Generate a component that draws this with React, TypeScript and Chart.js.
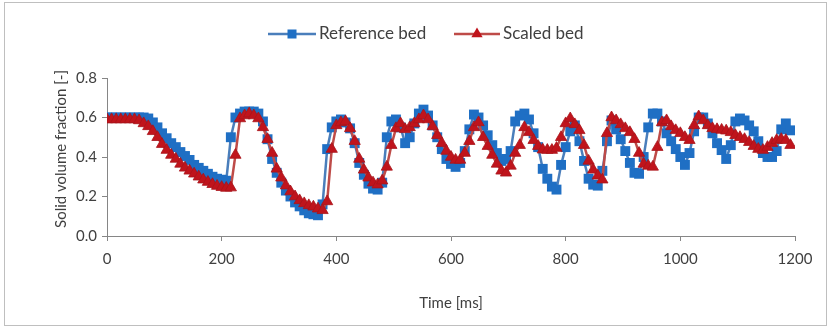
import React, { useEffect, useRef } from "react";
import { Chart, registerables } from "chart.js";

Chart.register(...registerables);

const SERIES_NAMES = ["Reference bed", "Scaled bed"];
const X_TITLE = "Time [ms]";
const Y_TITLE = "Solid volume fraction [-]";
const X_TICKS = [0, 200, 400, 600, 800, 1000, 1200];
const Y_TICKS = [0, 0.2, 0.4, 0.6, 0.8];

const TIME_MS = [
  0, 8, 16, 24, 32, 40, 48, 56, 64, 72, 80, 88, 96, 104, 112, 120, 128, 136, 144, 152,
  160, 168, 176, 184, 192, 200, 208, 216, 224, 232, 240, 248, 256, 264, 272, 280, 288, 296, 304, 312,
  320, 328, 336, 344, 352, 360, 368, 376, 384, 392, 400, 408, 416, 424, 432, 440, 448, 456, 464, 472,
  480, 488, 496, 504, 512, 520, 528, 536, 544, 552, 560, 568, 576, 584, 592, 600, 608, 616, 624, 632,
  640, 648, 656, 664, 672, 680, 688, 696, 704, 712, 720, 728, 736, 744, 752, 760, 768, 776, 784, 792,
  800, 808, 816, 824, 832, 840, 848, 856, 864, 872, 880, 888, 896, 904, 912, 920, 928, 936, 944, 952,
  960, 968, 976, 984, 992, 1000, 1008, 1016, 1024, 1032, 1040, 1048, 1056, 1064, 1072, 1080, 1088, 1096, 1104, 1112,
  1120, 1128, 1136, 1144, 1152, 1160, 1168, 1176, 1184, 1192,
];

const REFERENCE_BED = [
  0.6, 0.6, 0.6, 0.6, 0.6, 0.6, 0.6, 0.6, 0.6, 0.595, 0.575, 0.55, 0.52, 0.495, 0.47, 0.45, 0.425, 0.405, 0.385, 0.36,
  0.345, 0.33, 0.315, 0.3, 0.29, 0.285, 0.28, 0.5, 0.6, 0.62, 0.63, 0.63, 0.63, 0.62, 0.58, 0.49, 0.39, 0.32, 0.27, 0.23,
  0.2, 0.17, 0.15, 0.13, 0.115, 0.11, 0.105, 0.16, 0.44, 0.55, 0.58, 0.59, 0.575, 0.545, 0.47, 0.37, 0.31, 0.265, 0.24, 0.235,
  0.27, 0.5, 0.58, 0.59, 0.55, 0.47, 0.5, 0.57, 0.62, 0.64, 0.61, 0.56, 0.5, 0.44, 0.39, 0.365, 0.35, 0.37, 0.43, 0.54,
  0.615, 0.6, 0.56, 0.51, 0.46, 0.42, 0.38, 0.39, 0.43, 0.58, 0.61, 0.62, 0.59, 0.52, 0.45, 0.34, 0.29, 0.25, 0.235, 0.36,
  0.45, 0.53, 0.56, 0.48, 0.38, 0.29, 0.26, 0.255, 0.33, 0.48, 0.585, 0.54, 0.49, 0.43, 0.37, 0.32, 0.315, 0.4, 0.55, 0.62,
  0.62, 0.58, 0.52, 0.48, 0.44, 0.4, 0.36, 0.42, 0.53, 0.6, 0.6, 0.57, 0.52, 0.47, 0.435, 0.39, 0.46, 0.58, 0.595, 0.585,
  0.56, 0.53, 0.48, 0.42, 0.4, 0.4, 0.43, 0.54, 0.57, 0.535,
];

const SCALED_BED = [
  0.59, 0.59, 0.59, 0.59, 0.59, 0.59, 0.59, 0.585, 0.57, 0.555, 0.53, 0.5, 0.465, 0.435, 0.41, 0.39, 0.365, 0.345, 0.33, 0.315,
  0.3, 0.285, 0.273, 0.262, 0.253, 0.247, 0.243, 0.245, 0.41, 0.595, 0.61, 0.62, 0.61, 0.595, 0.55, 0.49, 0.42, 0.34, 0.295, 0.255,
  0.225, 0.2, 0.18, 0.165, 0.155, 0.148, 0.138, 0.13, 0.175, 0.44, 0.56, 0.575, 0.58, 0.545, 0.48, 0.39, 0.335, 0.295, 0.27, 0.26,
  0.28, 0.35, 0.46, 0.545, 0.57, 0.54, 0.55, 0.57, 0.59, 0.61, 0.59, 0.555, 0.51, 0.47, 0.43, 0.4, 0.385, 0.385, 0.42, 0.48,
  0.55, 0.575, 0.5, 0.455, 0.41, 0.365, 0.33, 0.32, 0.355, 0.42, 0.46, 0.55, 0.525, 0.485, 0.455, 0.437, 0.435, 0.435, 0.445, 0.5,
  0.57, 0.595, 0.565, 0.535, 0.46, 0.38, 0.335, 0.305, 0.285, 0.52, 0.6, 0.585, 0.565, 0.545, 0.525, 0.49, 0.42, 0.365, 0.355, 0.35,
  0.45, 0.575, 0.585, 0.555, 0.535, 0.52, 0.5, 0.485, 0.56, 0.605, 0.585, 0.56, 0.545, 0.54, 0.537, 0.533, 0.525, 0.51, 0.5, 0.49,
  0.475, 0.455, 0.44, 0.435, 0.45, 0.47, 0.485, 0.49, 0.485, 0.46,
];

const BLUE_LINE = "#4A7EBB";
const BLUE_MARK = "#1F6FC4";
const RED_LINE = "#BE4B48";
const RED_MARK = "#C0141C";
const AXIS_GRAY = "#868686";
const TEXT = "#404040";
const FONT = "Lato, 'Open Sans', sans-serif";

function drawSquare(ctx: CanvasRenderingContext2D, x: number, y: number, s: number, color: string) {
  ctx.fillStyle = color;
  ctx.fillRect(x - s / 2, y - s / 2, s, s);
}

function drawTriangle(ctx: CanvasRenderingContext2D, x: number, y: number, r: number, color: string) {
  ctx.beginPath();
  ctx.moveTo(x, y - r);
  ctx.lineTo(x + r * 0.866, y + r * 0.5);
  ctx.lineTo(x - r * 0.866, y + r * 0.5);
  ctx.closePath();
  ctx.fillStyle = color;
  ctx.fill();
}

const framePlugin = {
  id: "framePlugin",
  beforeDraw(chart: any) {
    const ctx = chart.ctx as CanvasRenderingContext2D;
    ctx.save();
    ctx.fillStyle = "#ffffff";
    ctx.fillRect(0, 0, chart.width, chart.height);
    ctx.strokeStyle = "#BFBFBF";
    ctx.lineWidth = 1;
    ctx.strokeRect(4.5, 2.5, 822, 323);
    ctx.restore();
  },
  afterDraw(chart: any) {
    const ctx = chart.ctx as CanvasRenderingContext2D;
    const y = 34;
    ctx.save();
    ctx.lineWidth = 2.5;
    // Reference bed
    ctx.strokeStyle = BLUE_LINE;
    ctx.beginPath();
    ctx.moveTo(268, y);
    ctx.lineTo(316, y);
    ctx.stroke();
    drawSquare(ctx, 292, y, 9, BLUE_MARK);
    // Scaled bed
    ctx.strokeStyle = RED_LINE;
    ctx.beginPath();
    ctx.moveTo(454, y);
    ctx.lineTo(500, y);
    ctx.stroke();
    drawTriangle(ctx, 477, y, 6.5, RED_MARK);
    ctx.fillStyle = TEXT;
    ctx.font = `17px ${FONT}`;
    ctx.textBaseline = "middle";
    ctx.textAlign = "left";
    ctx.fillText(SERIES_NAMES[0], 319, y);
    ctx.fillText(SERIES_NAMES[1], 503, y);
    // Y axis title (centred a little above the plot centre, as in the source)
    ctx.save();
    ctx.translate(61, 149);
    ctx.rotate(-Math.PI / 2);
    ctx.textAlign = "center";
    ctx.font = `15px ${FONT}`;
    ctx.fillText(Y_TITLE, 0, 0);
    ctx.restore();
    ctx.restore();
  },
};

export default function App() {
  const canvasRef = useRef<HTMLCanvasElement | null>(null);

  useEffect(() => {
    const canvas = canvasRef.current;
    if (!canvas) return;
    Chart.defaults.font.family = FONT;
    const chart = new Chart(canvas, {
      type: "line",
      data: {
        datasets: [
          {
            label: SERIES_NAMES[0],
            data: TIME_MS.map((t, i) => ({ x: t, y: REFERENCE_BED[i] })),
            borderColor: BLUE_LINE,
            backgroundColor: BLUE_MARK,
            borderWidth: 2.5,
            pointStyle: "rect",
            pointRadius: 7,
            pointBackgroundColor: BLUE_MARK,
            pointBorderColor: BLUE_MARK,
            pointBorderWidth: 0,
            tension: 0,
            order: 2,
          },
          {
            label: SERIES_NAMES[1],
            data: TIME_MS.map((t, i) => ({ x: t, y: SCALED_BED[i] })),
            borderColor: RED_LINE,
            backgroundColor: RED_MARK,
            borderWidth: 2.5,
            pointStyle: "triangle",
            pointRadius: 6.5,
            pointBackgroundColor: RED_MARK,
            pointBorderColor: "#A8141A",
            pointBorderWidth: 0.8,
            tension: 0,
            order: 1,
          },
        ],
      },
      options: {
        responsive: false,
        animation: false,
        layout: { padding: { top: 78, right: 35, bottom: 0, left: 0 } },
        plugins: {
          legend: { display: false },
          tooltip: { enabled: false },
        },
        scales: {
          x: {
            type: "linear",
            min: 0,
            max: 1200,
            afterBuildTicks: (scale: any) => {
              scale.ticks = X_TICKS.map((v) => ({ value: v }));
            },
            afterFit: (scale: any) => {
              scale.height = 92;
            },
            ticks: {
              color: TEXT,
              font: { family: FONT, size: 15 },
              padding: 9,
              maxRotation: 0,
              callback: (v: any) => String(v),
            },
            grid: {
              drawOnChartArea: false,
              drawTicks: true,
              tickLength: 5,
              color: AXIS_GRAY,
            },
            border: { display: true, color: AXIS_GRAY, width: 1 },
            title: {
              display: true,
              text: X_TITLE,
              color: TEXT,
              font: { family: FONT, size: 15 },
              padding: { top: 0, bottom: 16 },
            },
          },
          y: {
            type: "linear",
            min: 0,
            max: 0.8,
            afterBuildTicks: (scale: any) => {
              scale.ticks = Y_TICKS.map((v) => ({ value: v }));
            },
            afterFit: (scale: any) => {
              scale.width = 107;
            },
            ticks: {
              color: TEXT,
              font: { family: FONT, size: 15 },
              padding: 5,
              callback: (v: any) => Number(v).toFixed(1),
            },
            grid: {
              drawOnChartArea: false,
              drawTicks: true,
              tickLength: 5,
              color: AXIS_GRAY,
            },
            border: { display: true, color: AXIS_GRAY, width: 1 },
            title: { display: false, text: Y_TITLE },
          },
        },
      },
      plugins: [framePlugin],
    });
    return () => chart.destroy();
  }, []);

  return (
    <div style={{ position: "fixed", left: 0, top: 0, width: 830, height: 328, background: "#fff" }}>
      <canvas ref={canvasRef} width={830} height={328} style={{ width: 830, height: 328, display: "block" }} />
    </div>
  );
}
